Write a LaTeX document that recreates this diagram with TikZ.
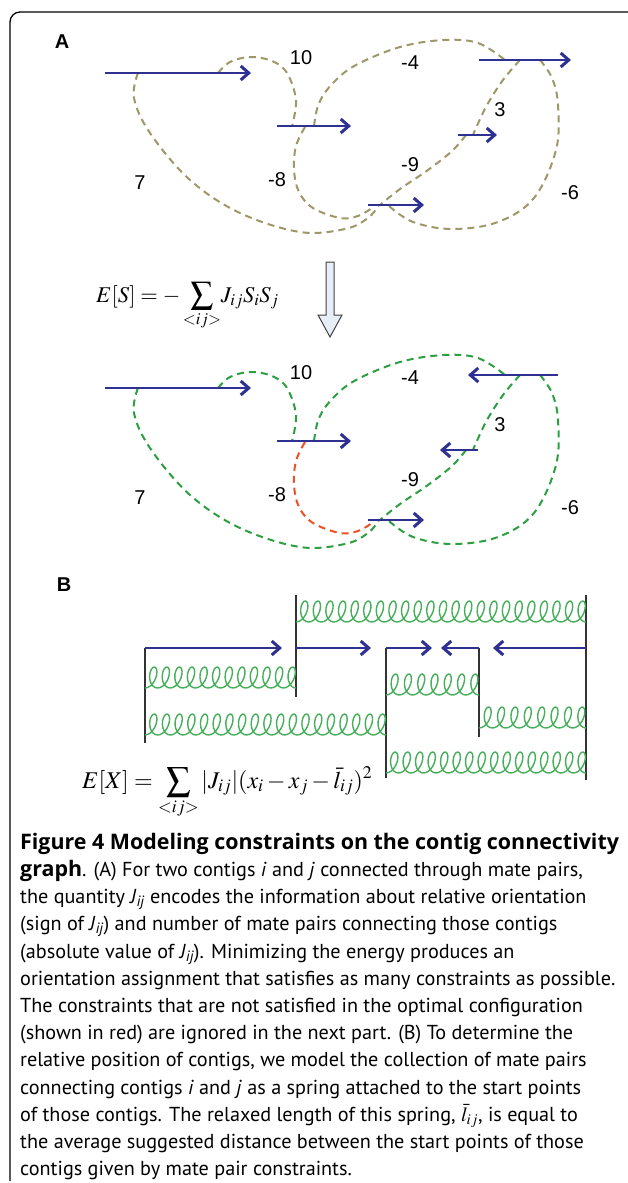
\documentclass[tikz,border=0pt]{standalone}
\usepackage{mathptmx}
\usepackage[no-math]{fontspec}
\newfontfamily\capfont{PT Sans}
\newfontfamily\capbold{Open Sans}
\newfontfamily\labfont{Liberation Sans}
\usetikzlibrary{arrows.meta}
\definecolor{cblue}{RGB}{46,49,146}
\definecolor{dolive}{RGB}{158,152,104}
\definecolor{dgreen}{RGB}{44,160,64}
\definecolor{dred}{RGB}{240,80,40}
\definecolor{sgreen}{RGB}{70,175,90}
\definecolor{afill}{RGB}{232,238,248}
\newcommand\bigbf{\capbold\bfseries\fontsize{21.4}{24}\selectfont}
\tikzset{
  contig/.style={draw=cblue, line width=2.4pt, -{Straight Barb[length=8pt,width=14pt,line width=3pt]}},
  link/.style={dash pattern=on 7pt off 5pt, line width=2pt},
  wlabel/.style={font=\labfont\fontsize{20}{22}\selectfont, inner sep=0pt},
  plabel/.style={font=\labfont\bfseries\fontsize{20}{22}\selectfont, inner sep=0pt},
  spring/.style={draw=sgreen, line width=1.4pt},
  post/.style={draw=black!80, line width=1.6pt},
  captext/.style={font=\capfont\fontsize{20.2}{22}\selectfont, anchor=base west, inner sep=0pt},
  eqn/.style={inner sep=0pt},
}
% spring: #1 start coordinate (bottom-left), #2 length, #3 number of loops
\newcommand\myspring[3]{%
  \pgfmathsetmacro\mypitch{#2/(2*pi*#3)}%
  \begin{scope}[shift={(#1)}]
  \draw[spring] plot[domain=0:{2*pi*#3}, samples={#3*20+1}, smooth, variable=\t]
    ({\mypitch*\t + 6.3*sin(\t r) + 1.5*(1-cos(\t r))}, {-10.5 + 10.5*cos(\t r)});
  \end{scope}}
\newcommand\mylinks[2]{%
  \draw[link,#1] plot[smooth,tension=0.6] coordinates {(138,73) (134,98) (150,133) (190,180) (240,213) (300,232) (345,229) (368,218) (379,205)};
  \draw[link,#1] plot[smooth,tension=0.6] coordinates {(218,73) (230,62) (250,57) (272,61) (287,73) (296,100) (292,126)};
  \draw[link,#1] plot[smooth,tension=0.6] coordinates {(314,126) (319,103) (333,83) (356,65) (400,47) (444,40) (478,43) (505,60)};
  \draw[link,#2] plot[smooth,tension=0.6] coordinates {(305,127) (296,146) (294,170) (299,192) (313,208) (340,218) (358,216) (372,208)};
  \draw[link,#1] plot[smooth,tension=0.6] coordinates {(520,60) (503,80) (487,105) (476,128) (473,135)};
  \draw[link,#1] plot[smooth,tension=0.6] coordinates {(466,135) (452,151) (428,170) (400,189) (380,205)};
  \draw[link,#1] plot[smooth,tension=0.6] coordinates {(540,60) (552,78) (558,105) (556,150) (534,198) (498,222) (452,229) (413,222) (389,206)};
}
\newcommand\mylabels[1]{%
  \node[wlabel] (#1w10) at (301,58) {10};
  \node[wlabel] (#1w4) at (410,63) {-4};
  \node[wlabel] (#1w3) at (500,110) {3};
  \node[wlabel] (#1w7) at (140,183) {7};
  \node[wlabel] (#1w8) at (277,180) {-8};
  \node[wlabel] (#1w9) at (410,165) {-9};
  \node[wlabel] (#1w6) at (570,193) {-6};
}
\begin{document}
\begin{tikzpicture}[x=1pt,y=-1pt]
\useasboundingbox (0,0) rectangle (627,1183);
\fill[white] (0,0) rectangle (627,1183);
% frame
\draw[line width=1.3pt, rounded corners=10pt] (10,1181) -- (10,12) -- (628,12);
\node[plabel] (A) at (62,42) {A};
% ---- top panel
\mylinks{dolive}{dolive}
\coordinate (t1s) at (105,73);  \coordinate (t1e) at (251,73);
\coordinate (t2s) at (277,126); \coordinate (t2e) at (351,126);
\coordinate (t3s) at (479,60);  \coordinate (t3e) at (571,60);
\coordinate (t4s) at (458,135); \coordinate (t4e) at (497,135);
\coordinate (t5s) at (368,205); \coordinate (t5e) at (424,205);
\draw[contig] (t1s) -- (t1e);
\draw[contig] (t2s) -- (t2e);
\draw[contig] (t3s) -- (t3e);
\draw[contig] (t4s) -- (t4e);
\draw[contig] (t5s) -- (t5e);
\mylabels{t}
% equation + arrow
\node[eqn, font=\fontsize{22.5}{26}\selectfont, anchor=base west] (es) at (96,302) {$\thickmuskip=4mu\medmuskip=1mu E[S] = -\displaystyle\sum_{<ij>}\! J_{ij} S_i S_j$};
\draw[draw=black!75, fill=afill, line width=1pt] (326,262) -- (334,262) -- (334,315) -- (342,315) -- (330,337) -- (318,315) -- (326,315) -- cycle;
% ---- bottom panel
\begin{scope}[yshift=-315pt]
\mylinks{dgreen}{dred}
\coordinate (b1s) at (105,73);  \coordinate (b1e) at (251,73);
\coordinate (b2s) at (277,126); \coordinate (b2e) at (351,126);
\coordinate (b3s) at (558,60);  \coordinate (b3e) at (468,60);
\coordinate (b4s) at (478,135); \coordinate (b4e) at (440,135);
\coordinate (b5s) at (368,205); \coordinate (b5e) at (424,205);
\draw[contig] (b1s) -- (b1e);
\draw[contig] (b2s) -- (b2e);
\draw[contig] (b3s) -- (b3e);
\draw[contig] (b4s) -- (b4e);
\draw[contig] (b5s) -- (b5e);
\mylabels{b}
\end{scope}
% ---- panel B
\node[plabel] (B) at (64,585) {B};
\coordinate (p1t) at (145,648); \coordinate (p1b) at (145,743);
\coordinate (p2t) at (296,595); \coordinate (p2b) at (296,697);
\coordinate (p3t) at (386,648); \coordinate (p3b) at (386,778);
\coordinate (p4t) at (479,648); \coordinate (p4b) at (479,737);
\coordinate (p5t) at (586,595); \coordinate (p5b) at (586,780);
\foreach \p in {1,...,5} {\draw[post] (p\p t) -- (p\p b);}
\draw[contig] (p1t) -- (282,648);
\draw[contig] (296,648) -- (371,648);
\draw[contig] (p3t) -- (432,648);
\draw[contig] (p4t) -- (441,648);
\draw[contig] (586,648) -- (493,648);
\coordinate (s1a) at (296,622);
\coordinate (s2a) at (145,688);
\coordinate (s3a) at (145,735);
\coordinate (s4a) at (386,695);
\coordinate (s5a) at (479,728);
\coordinate (s6a) at (386,773);
\myspring{s1a}{290}{23}
\myspring{s2a}{151}{12}
\myspring{s3a}{241}{19}
\myspring{s4a}{93}{7}
\myspring{s5a}{107}{8}
\myspring{s6a}{200}{16}
\node[eqn, font=\fontsize{24}{28}\selectfont, anchor=base west] (ex) at (82,788) {$E[X] = \displaystyle\sum_{<ij>} |J_{ij}|(x_i - x_j - \bar{l}_{ij})^2$};
% ---- caption
\node[captext] (c1) at (20,849) {\bigbf Figure 4 Modeling constraints on the contig connectivity};
\node[captext] (c2) at (20,876) {{\bigbf graph}. (A) For two contigs \textit{i} and \textit{j} connected through mate pairs,};
\node[captext] (c3) at (20,903) {the quantity \textit{J}\textsubscript{\itshape ij} encodes the information about relative orientation};
\node[captext] (c4) at (20,930) {(sign of \textit{J}\textsubscript{\itshape ij}) and number of mate pairs connecting those contigs};
\node[captext] (c5) at (20,958) {(absolute value of \textit{J}\textsubscript{\itshape ij}). Minimizing the energy produces an};
\node[captext] (c6) at (20,985) {orientation assignment that satisfies as many constraints as possible.};
\node[captext] (c7) at (20,1012) {The constraints that are not satisfied in the optimal configuration};
\node[captext] (c8) at (20,1039) {(shown in red) are ignored in the next part. (B) To determine the};
\node[captext] (c9) at (20,1066) {relative position of contigs, we model the collection of mate pairs};
\node[captext] (c10) at (20,1094) {connecting contigs \textit{i} and \textit{j} as a spring attached to the start points};
\node[captext] (c11) at (20,1121) {of those contigs. The relaxed length of this spring, $\bar{l}_{ij}$, is equal to};
\node[captext] (c12) at (20,1148) {the average suggested distance between the start points of those};
\node[captext] (c13) at (20,1175) {contigs given by mate pair constraints.};
\end{tikzpicture}
\end{document}
